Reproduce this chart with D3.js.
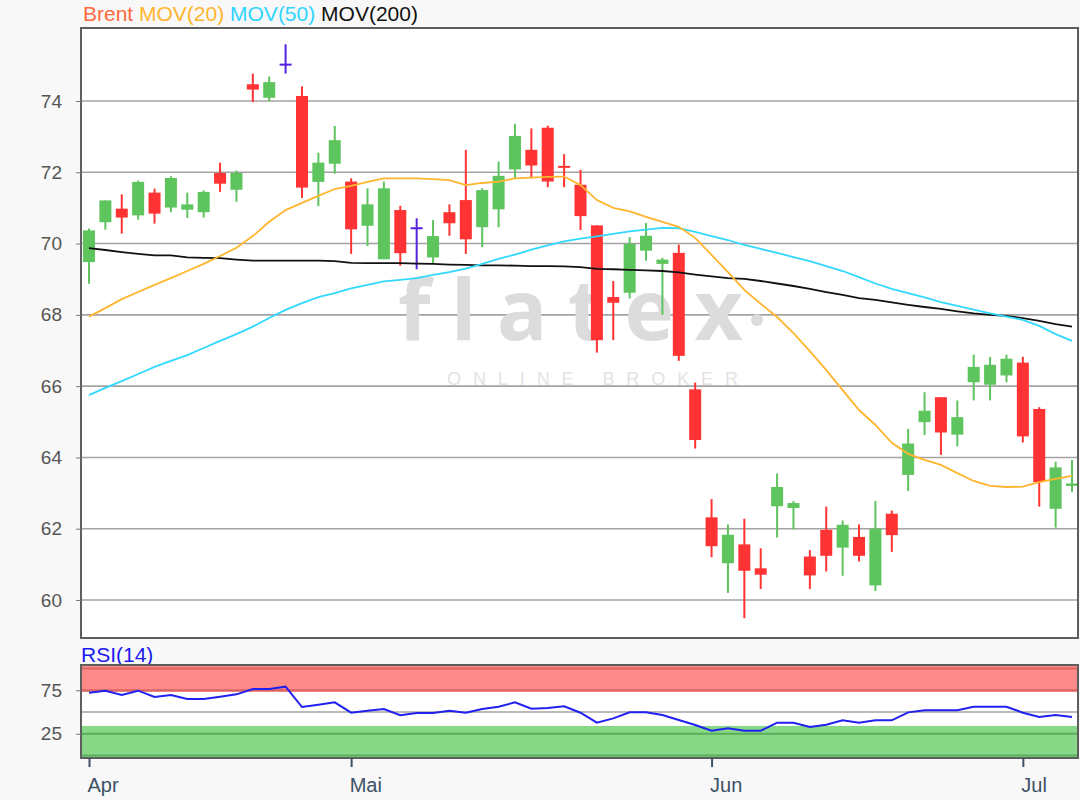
<!DOCTYPE html>
<html>
<head>
<meta charset="utf-8">
<script src="https://cdn.jsdelivr.net/npm/d3@7"></script>
<style>
  body { margin: 0; background: #f8f8f8; }
  svg { display: block; font-family: 'Liberation Sans', Arial, sans-serif; }
</style>
</head>
<body>
<div id="chart"></div>
<script>
// Brent daily candles (one entry per trading day)
const open = [69.48, 70.60, 70.98, 70.79, 71.43, 71.01, 70.95, 70.88, 71.98, 71.51, 74.47, 74.09, 75.02, 74.14, 71.73, 72.24, 71.74, 70.50, 69.56, 70.94, 70.43, 69.61, 70.88, 71.22, 70.46, 70.96, 72.08, 72.63, 73.25, 72.18, 71.65, 70.51, 68.50, 68.62, 69.80, 69.43, 69.74, 65.91, 62.32, 61.03, 61.56, 60.89, 62.63, 62.58, 61.22, 61.97, 61.47, 61.77, 60.41, 62.42, 63.51, 64.99, 65.69, 64.64, 66.11, 66.04, 66.30, 66.66, 65.36, 62.56, 63.20]
const high = [70.42, 71.21, 71.38, 71.77, 71.54, 71.89, 71.43, 71.49, 72.27, 72.05, 74.77, 74.69, 75.59, 74.41, 72.55, 73.30, 71.83, 71.55, 71.74, 71.06, 70.71, 70.66, 71.10, 72.63, 71.55, 72.30, 73.36, 73.23, 73.31, 72.51, 72.07, 70.51, 68.95, 70.18, 70.58, 69.60, 69.97, 66.10, 62.83, 62.12, 62.28, 61.45, 63.55, 62.78, 61.40, 62.62, 62.23, 62.12, 62.78, 62.51, 64.80, 65.83, 65.69, 65.60, 66.88, 66.82, 66.88, 66.82, 65.41, 63.88, 63.93]
const low = [68.87, 70.39, 70.28, 70.67, 70.56, 70.88, 70.72, 70.73, 71.45, 71.17, 73.97, 73.99, 74.77, 71.28, 71.05, 71.96, 69.71, 69.93, 69.56, 69.38, 69.28, 69.43, 70.22, 69.71, 69.90, 70.46, 71.83, 71.83, 71.58, 71.58, 70.38, 66.94, 67.29, 68.46, 69.52, 68.00, 66.71, 64.25, 61.20, 60.20, 59.49, 60.31, 61.75, 61.98, 60.31, 60.80, 60.68, 61.08, 60.25, 61.35, 63.06, 64.63, 64.07, 64.31, 65.60, 65.60, 66.11, 64.42, 62.62, 62.03, 63.03]
const close = [70.37, 71.21, 70.73, 71.73, 70.84, 71.84, 71.10, 71.45, 71.68, 71.98, 74.32, 74.53, 75.02, 71.57, 72.27, 72.90, 70.40, 71.10, 71.55, 69.73, 70.43, 70.21, 70.57, 70.12, 71.50, 71.90, 73.02, 72.19, 71.74, 72.13, 70.77, 67.29, 68.34, 69.99, 70.22, 69.55, 66.85, 64.49, 61.51, 61.83, 60.82, 60.71, 63.17, 62.72, 60.69, 61.24, 62.11, 61.24, 62.00, 61.82, 64.39, 65.31, 64.70, 65.13, 66.54, 66.60, 66.77, 64.59, 63.31, 63.72, 63.27]

// moving averages
const mov20 = [67.95, 68.19, 68.44, 68.64, 68.84, 69.03, 69.23, 69.43, 69.65, 69.88, 70.21, 70.61, 70.94, 71.14, 71.34, 71.53, 71.62, 71.73, 71.83, 71.83, 71.83, 71.81, 71.78, 71.64, 71.70, 71.74, 71.83, 71.85, 71.87, 71.88, 71.64, 71.22, 71.00, 70.90, 70.75, 70.61, 70.47, 70.16, 69.68, 69.20, 68.70, 68.31, 67.94, 67.49, 66.98, 66.45, 65.89, 65.33, 64.91, 64.41, 64.10, 63.93, 63.79, 63.56, 63.34, 63.20, 63.17, 63.18, 63.31, 63.40, 63.48]
const mov50 = [65.75, 65.95, 66.14, 66.34, 66.54, 66.71, 66.87, 67.07, 67.27, 67.46, 67.67, 67.91, 68.14, 68.33, 68.50, 68.61, 68.74, 68.84, 68.94, 68.98, 69.03, 69.12, 69.20, 69.30, 69.43, 69.57, 69.69, 69.83, 69.95, 70.06, 70.14, 70.20, 70.27, 70.34, 70.39, 70.44, 70.43, 70.33, 70.21, 70.10, 69.96, 69.85, 69.74, 69.62, 69.51, 69.37, 69.23, 69.06, 68.88, 68.73, 68.61, 68.49, 68.36, 68.25, 68.15, 68.04, 67.95, 67.86, 67.69, 67.46, 67.27]
const mov200 = [69.87, 69.82, 69.76, 69.71, 69.67, 69.67, 69.61, 69.60, 69.59, 69.55, 69.52, 69.52, 69.52, 69.52, 69.52, 69.51, 69.46, 69.45, 69.45, 69.45, 69.44, 69.43, 69.41, 69.40, 69.39, 69.39, 69.38, 69.37, 69.37, 69.36, 69.34, 69.29, 69.28, 69.26, 69.25, 69.23, 69.19, 69.13, 69.08, 69.03, 69.01, 68.95, 68.88, 68.81, 68.73, 68.64, 68.56, 68.47, 68.42, 68.35, 68.28, 68.22, 68.17, 68.10, 68.04, 68.00, 67.97, 67.91, 67.83, 67.74, 67.67]

// RSI(14)
const rsi = [72.2, 74.5, 69.5, 74.5, 67.2, 69.5, 64.9, 64.9, 67.6, 70.3, 76.4, 76.4, 79.1, 55.7, 58.4, 61.1, 49.2, 51.5, 53.4, 46.2, 48.9, 48.9, 51.5, 49.2, 53.4, 56.1, 61.1, 53.8, 54.6, 56.5, 49.2, 37.7, 42.7, 49.6, 49.6, 46.6, 40.8, 35.1, 28.5, 31.2, 28.5, 28.5, 37.7, 37.7, 32.8, 35.4, 40.4, 37.7, 40.4, 40.4, 49.6, 51.9, 51.9, 51.9, 56.1, 56.1, 56.1, 49.2, 44.3, 46.6, 44.3]

// first trading day of each month (candle index) and its label
const monthStarts = [0, 16, 38, 57]
const monthLabels = ['Apr', 'Mai', 'Jun', 'Jul']
const priceTicks = [60, 62, 64, 66, 68, 70, 72, 74]
const rsiTicks = [25, 75]
const rsiLevels = [0, 25, 75, 100]

const width = 1080
const height = 800
const plot = { left: 81, right: 1078, top: 28, bottom: 638 }
const pane = { top: 665, bottom: 758 }

const svg = d3.select('#chart')
  .append('svg')
  .attr('width', width)
  .attr('height', height)

const x = d3.scaleLinear()
  .domain([0, open.length - 1])
  .range([89, 1072])

const y = d3.scaleLinear()
  .domain([60, 74])
  .range([600, 101])

const r = d3.scaleLinear()
  .domain([0, 100])
  .range([755.5, 668.5])

const candles = open.map((o, i) => ({ i, o, h: high[i], l: low[i], c: close[i] }))

// legend
const legend = svg.append('text')
  .attr('x', 83)
  .attr('y', 21)
  .attr('font-size', 21)
legend.append('tspan').attr('fill', '#ff6a3d').text('Brent ')
legend.append('tspan').attr('fill', '#ffb52e').text('MOV(20) ')
legend.append('tspan').attr('fill', '#2fd5ff').text('MOV(50) ')
legend.append('tspan').attr('fill', '#111').text('MOV(200)')

svg.append('clipPath')
  .attr('id', 'clip-main')
  .append('rect')
  .attr('x', plot.left)
  .attr('y', plot.top)
  .attr('width', plot.right - plot.left)
  .attr('height', plot.bottom - plot.top)

svg.append('rect')
  .attr('x', plot.left)
  .attr('y', plot.top)
  .attr('width', plot.right - plot.left)
  .attr('height', plot.bottom - plot.top)
  .attr('fill', '#fff')

// gridlines
svg.append('g')
  .selectAll('line')
  .data(priceTicks)
  .join('line')
  .attr('x1', plot.left)
  .attr('x2', plot.right)
  .attr('y1', d => y(d))
  .attr('y2', d => y(d))
  .attr('stroke', '#a3a3a3')
  .attr('stroke-width', 1.6)

// watermark
svg.append('text')
  .attr('x', 398)
  .attr('y', 340)
  .attr('font-family', 'Open Sans, sans-serif')
  .attr('font-weight', 700)
  .attr('font-size', 84)
  .attr('textLength', 345)
  .attr('lengthAdjust', 'spacing')
  .style('font-variant-ligatures', 'none')
  .attr('fill', '#dcdcdc')
  .text('flatex')
svg.append('circle')
  .attr('cx', 757)
  .attr('cy', 320)
  .attr('r', 6)
  .attr('fill', '#dcdcdc')
svg.append('text')
  .attr('x', 447)
  .attr('y', 385)
  .attr('font-size', 18)
  .attr('textLength', 291)
  .attr('lengthAdjust', 'spacing')
  .attr('fill', '#e3e3e3')
  .text('ONLINE BROKER')

const main = svg.append('g').attr('clip-path', 'url(#clip-main)')

const candleColor = d => d.c > d.o ? '#5ec45e' : d.c < d.o ? '#ff3333' : '#5522dd'

main.append('g')
  .selectAll('line')
  .data(candles)
  .join('line')
  .attr('x1', d => x(d.i))
  .attr('x2', d => x(d.i))
  .attr('y1', d => y(d.h))
  .attr('y2', d => y(d.l))
  .attr('stroke', candleColor)
  .attr('stroke-width', 2)

main.append('g')
  .selectAll('rect')
  .data(candles)
  .join('rect')
  .attr('x', d => x(d.i) - 6)
  .attr('width', 12)
  .attr('y', d => y(Math.max(d.o, d.c)) - (d.o === d.c ? 1 : 0))
  .attr('height', d => Math.max(2, Math.abs(y(d.o) - y(d.c))))
  .attr('fill', candleColor)

const line = d3.line()
  .x((d, i) => x(i))
  .y(d => y(d))

const maSeries = [
  { values: mov200, color: '#111' },
  { values: mov50, color: '#33d8ff' },
  { values: mov20, color: '#ffb52e' }
]

main.append('g')
  .selectAll('path')
  .data(maSeries)
  .join('path')
  .attr('d', d => line(d.values))
  .attr('fill', 'none')
  .attr('stroke', d => d.color)
  .attr('stroke-width', 1.8)

svg.append('rect')
  .attr('x', plot.left)
  .attr('y', plot.top)
  .attr('width', plot.right - plot.left)
  .attr('height', plot.bottom - plot.top)
  .attr('fill', 'none')
  .attr('stroke', '#5e5e5e')
  .attr('stroke-width', 2)

const yAxis = svg.append('g')
  .attr('transform', `translate(${plot.left}, 0)`)
  .call(d3.axisLeft(y).tickValues(priceTicks).tickSize(5).tickPadding(14))
yAxis.select('.domain').remove()
yAxis.selectAll('line').attr('stroke', '#777')
yAxis.selectAll('text').attr('font-size', 19).attr('fill', '#555').attr('font-family', null)

// RSI pane
svg.append('text')
  .attr('x', 81)
  .attr('y', 662)
  .attr('font-size', 21)
  .attr('fill', '#1a1aee')
  .text('RSI(14)')

svg.append('rect')
  .attr('x', plot.left)
  .attr('y', pane.top)
  .attr('width', plot.right - plot.left)
  .attr('height', pane.bottom - pane.top)
  .attr('fill', '#fff')

svg.append('rect')
  .attr('x', plot.left)
  .attr('y', pane.top)
  .attr('width', plot.right - plot.left)
  .attr('height', r(73) - pane.top)
  .attr('fill', '#ff8a8a')

svg.append('rect')
  .attr('x', plot.left)
  .attr('y', r(34))
  .attr('width', plot.right - plot.left)
  .attr('height', pane.bottom - r(34))
  .attr('fill', '#88d888')

svg.append('g')
  .selectAll('line')
  .data(rsiLevels)
  .join('line')
  .attr('x1', plot.left)
  .attr('x2', plot.right)
  .attr('y1', d => r(d))
  .attr('y2', d => r(d))
  .attr('stroke', d => d > 50 ? '#d86464' : '#5aad5a')
  .attr('stroke-width', 2)

svg.append('line')
  .attr('x1', plot.left)
  .attr('x2', plot.right)
  .attr('y1', r(50))
  .attr('y2', r(50))
  .attr('stroke', '#a3a3a3')
  .attr('stroke-width', 1.6)

svg.append('path')
  .datum(rsi)
  .attr('d', d3.line().x((d, i) => x(i)).y(d => r(d)))
  .attr('fill', 'none')
  .attr('stroke', '#2020f0')
  .attr('stroke-width', 2)

svg.append('rect')
  .attr('x', plot.left)
  .attr('y', pane.top)
  .attr('width', plot.right - plot.left)
  .attr('height', pane.bottom - pane.top)
  .attr('fill', 'none')
  .attr('stroke', '#5e5e5e')
  .attr('stroke-width', 2)

const rAxis = svg.append('g')
  .attr('transform', `translate(${plot.left}, 0)`)
  .call(d3.axisLeft(r).tickValues(rsiTicks).tickSize(5).tickPadding(14))
rAxis.select('.domain').remove()
rAxis.selectAll('line').attr('stroke', '#777')
rAxis.selectAll('text').attr('font-size', 19).attr('fill', '#555').attr('font-family', null)

const xAxis = svg.append('g')
  .attr('transform', `translate(0, ${pane.bottom})`)
  .call(d3.axisBottom(x).tickValues(monthStarts).tickFormat((d, i) => monthLabels[i]).tickSize(9))
xAxis.select('.domain').remove()
xAxis.selectAll('line').attr('stroke', '#3d5166').attr('stroke-width', 2)
xAxis.selectAll('text')
  .attr('text-anchor', 'start')
  .attr('x', -2)
  .attr('y', 20)
  .attr('font-size', 20)
  .attr('fill', '#3d5166')
  .attr('font-family', null)
</script>
</body>
</html>
